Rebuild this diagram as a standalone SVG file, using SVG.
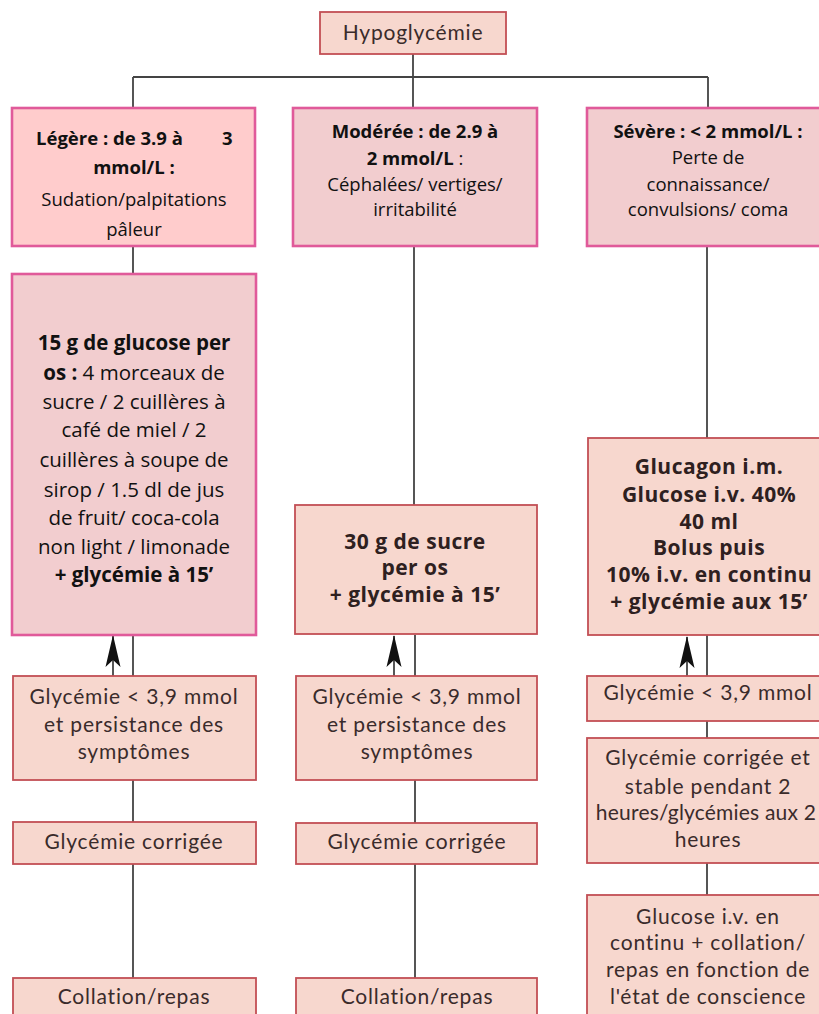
<svg xmlns="http://www.w3.org/2000/svg" width="819" height="1014" viewBox="0 0 819 1014">
<defs>
<style>
.scan{fill:#f7d7ce;stroke:#c24f55;stroke-width:1.8}
.pk1{fill:#ffcccc;stroke:#e05a9a;stroke-width:2.6}
.pk2{fill:#f2cdcf;stroke:#e05a9a;stroke-width:2.6}
.ln{stroke:#444;stroke-width:1.8;fill:none}
.arr{stroke:#444;stroke-width:1.8;fill:none;marker-end:url(#ah)}
.t1{font-family:"Open Sans",Lato,sans-serif;font-size:18.5px;fill:#111;text-anchor:middle}
.t2{font-family:"Open Sans",Lato,sans-serif;font-size:20.5px;fill:#111;text-anchor:middle}
.ts{font-family:Lato,"Open Sans",sans-serif;font-size:21px;fill:#3a2b2b;text-anchor:middle;letter-spacing:0.8px}
.tb{font-family:"Open Sans",Lato,sans-serif;font-size:21px;font-weight:bold;fill:#2e2020;text-anchor:middle;letter-spacing:0.5px}
.b{font-weight:bold}
</style>
<marker id="ah" viewBox="0 0 32 16" refX="31" refY="8" markerWidth="32" markerHeight="16" markerUnits="userSpaceOnUse" orient="auto">
<path d="M0,0.5 L32,8 L0,15.5 L7,8 Z" fill="#111"/>
</marker>
</defs>
<rect width="819" height="1014" fill="#fff"/>

<g id="connectors">
<path class="ln" d="M413,54 V77 M133,77 H708 M133,77 V108 M413,77 V108 M708,77 V108"/>
<path class="ln" d="M133,246 V274 M414,246 V505 M707,246 V438"/>
<path class="ln" d="M133,635 V676 M133,780 V822 M133,864 V978"/>
<path class="ln" d="M415,635 V676 M415,780 V823 M415,864 V978"/>
<path class="ln" d="M707,635 V676 M707,721 V738 M707,863 V895"/>
<line class="arr" x1="113" y1="676" x2="113" y2="636"/>
<line class="arr" x1="394" y1="676" x2="394" y2="636"/>
<line class="arr" x1="687" y1="676" x2="687" y2="637"/>
</g>

<g id="n-hypo">
<rect class="scan" x="320" y="12" width="186" height="42"/>
<text class="ts" x="413" y="40">Hypoglycémie</text>
</g>

<g id="n-legere">
<rect class="pk1" x="12" y="108" width="243" height="138"/>
<text class="t1 b" y="145"><tspan x="36" text-anchor="start">Légère : de 3.9 à</tspan><tspan x="225"> 3</tspan></text>
<text class="t1 b" x="134" y="174">mmol/L :</text>
<text class="t1" x="134" y="206">Sudation/palpitations</text>
<text class="t1" x="134" y="236">pâleur</text>
</g>

<g id="n-moderee">
<rect class="pk2" x="293" y="108" width="244" height="138"/>
<text class="t1 b" x="415" y="138">Modérée : de 2.9 à</text>
<text class="t1" x="415" y="165"><tspan class="b">2 mmol/L</tspan> :</text>
<text class="t1" x="415" y="191">Céphalées/ vertiges/</text>
<text class="t1" x="415" y="216">irritabilité</text>
</g>

<g id="n-severe">
<rect class="pk2" x="587" y="108" width="240" height="138"/>
<text class="t1 b" x="708" y="138">Sévère : &lt; 2 mmol/L :</text>
<text class="t1" x="708" y="164">Perte de</text>
<text class="t1" x="708" y="191">connaissance/</text>
<text class="t1" x="708" y="216">convulsions/ coma</text>
</g>

<g id="n-15g">
<rect class="pk2" x="12" y="274" width="244" height="361"/>
<text class="t2 b" x="134" y="350">15 g de glucose per</text>
<text class="t2" x="134" y="380"><tspan class="b">os :</tspan> 4 morceaux de</text>
<text class="t2" x="134" y="409">sucre / 2 cuillères à</text>
<text class="t2" x="134" y="437">café de miel / 2</text>
<text class="t2" x="134" y="467">cuillères à soupe de</text>
<text class="t2" x="134" y="497">sirop / 1.5 dl de jus</text>
<text class="t2" x="134" y="525">de fruit/ coca-cola</text>
<text class="t2" x="134" y="554">non light / limonade</text>
<text class="t2 b" x="134" y="582">+ glycémie à 15’</text>
</g>

<g id="n-30g">
<rect class="scan" x="295" y="505" width="242" height="129"/>
<text class="tb" x="415" y="549">30 g de sucre</text>
<text class="tb" x="415" y="575">per os</text>
<text class="tb" x="415" y="602">+ glycémie à 15’</text>
</g>

<g id="n-glucagon">
<rect class="scan" x="588" y="438" width="240" height="197"/>
<text class="tb" x="709" y="474">Glucagon i.m.</text>
<text class="tb" x="709" y="502">Glucose i.v. 40%</text>
<text class="tb" x="709" y="529">40 ml</text>
<text class="tb" x="709" y="555">Bolus puis</text>
<text class="tb" x="709" y="582">10% i.v. en continu</text>
<text class="tb" x="709" y="609">+ glycémie aux 15’</text>
</g>

<g id="n-left-persist">
<rect class="scan" x="13" y="676" width="243" height="104"/>
<text class="ts" x="134" y="704">Glycémie &lt; 3,9 mmol</text>
<text class="ts" x="134" y="732">et persistance des</text>
<text class="ts" x="134" y="759">symptômes</text>
</g>
<g id="n-left-corr">
<rect class="scan" x="13" y="822" width="243" height="42"/>
<text class="ts" x="134" y="849">Glycémie corrigée</text>
</g>
<g id="n-left-coll">
<rect class="scan" x="13" y="978" width="243" height="44"/>
<text class="ts" x="134" y="1004">Collation/repas</text>
</g>

<g id="n-mid-persist">
<rect class="scan" x="296" y="676" width="241" height="104"/>
<text class="ts" x="417" y="704">Glycémie &lt; 3,9 mmol</text>
<text class="ts" x="417" y="732">et persistance des</text>
<text class="ts" x="417" y="759">symptômes</text>
</g>
<g id="n-mid-corr">
<rect class="scan" x="296" y="823" width="241" height="41"/>
<text class="ts" x="417" y="849">Glycémie corrigée</text>
</g>
<g id="n-mid-coll">
<rect class="scan" x="296" y="978" width="241" height="44"/>
<text class="ts" x="417" y="1004">Collation/repas</text>
</g>

<g id="n-right-low">
<rect class="scan" x="587" y="676" width="240" height="45"/>
<text class="ts" x="708" y="700">Glycémie &lt; 3,9 mmol</text>
</g>
<g id="n-right-stable">
<rect class="scan" x="587" y="738" width="240" height="125"/>
<text class="ts" x="708" y="765">Glycémie corrigée et</text>
<text class="ts" x="708" y="794">stable pendant 2</text>
<text class="ts" x="706" y="820" style="letter-spacing:0.2px">heures/glycémies aux 2</text>
<text class="ts" x="708" y="847">heures</text>
</g>
<g id="n-right-glucose">
<rect class="scan" x="587" y="895" width="240" height="127"/>
<text class="ts" x="708" y="924">Glucose i.v. en</text>
<text class="ts" x="708" y="950">continu + collation/</text>
<text class="ts" x="708" y="977">repas en fonction de</text>
<text class="ts" x="708" y="1004">l'état de conscience</text>
</g>
</svg>
